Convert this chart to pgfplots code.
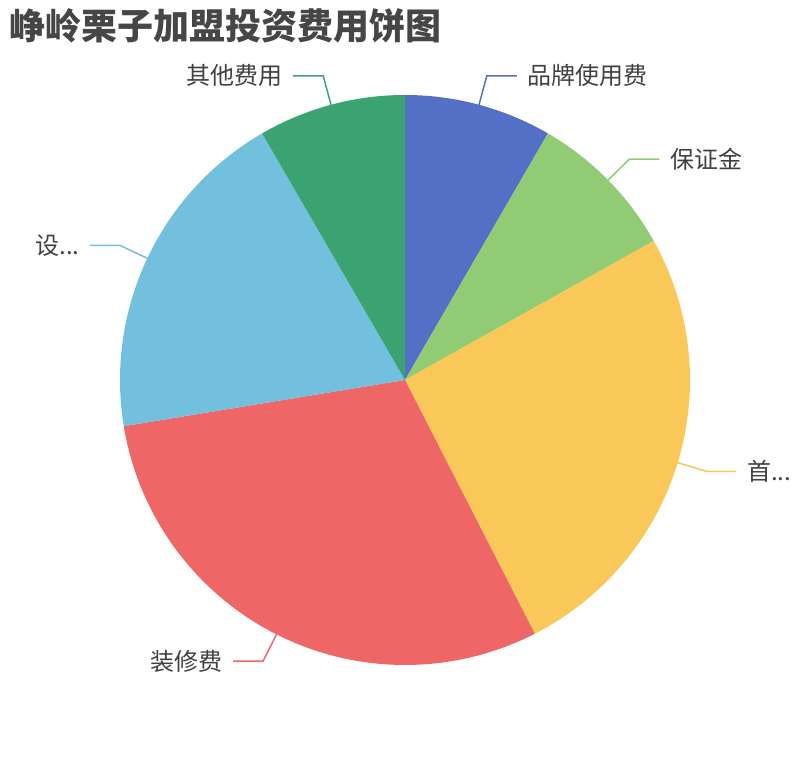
\documentclass[border=0pt]{standalone}
\usepackage{fontspec}
\setmainfont{Noto Sans CJK SC}
\usepackage{pgfplots}
\usepackage{pgfplotstable}
\pgfplotsset{compat=1.18}

\definecolor{pie0}{HTML}{5470C6}
\definecolor{pie1}{HTML}{91CC75}
\definecolor{pie2}{HTML}{FAC858}
\definecolor{pie3}{HTML}{EE6666}
\definecolor{pie4}{HTML}{73C0DE}
\definecolor{pie5}{HTML}{3BA272}
\definecolor{titlegray}{HTML}{464646}
\definecolor{labelgray}{HTML}{404040}

% slice values, clockwise from 12 o'clock
\pgfplotstableread[col sep=comma]{
value,label
5.0,品牌使用费
5.1,保证金
15.3,首...
17.9,装修费
11.5,设...
5.0,其他费用
}\piedata

\begin{document}
\begin{tikzpicture}
% total and per-slice angles
\pgfplotstablegetrowsof{\piedata}
\pgfmathtruncatemacro\nrows{\pgfplotsretval-1}
\def\total{0}
\pgfplotsforeachungrouped \i in {0,...,\nrows}{%
  \pgfplotstablegetelem{\i}{value}\of\piedata
  \pgfmathsetmacro\total{\total+\pgfplotsretval}%
}
\def\cum{0}
\pgfplotsforeachungrouped \i in {0,...,\nrows}{%
  \pgfplotstablegetelem{\i}{value}\of\piedata
  \let\v\pgfplotsretval
  \pgfmathsetmacro\sa{90-360*(\cum/\total)}%
  \pgfmathsetmacro\cum{\cum+\v}%
  \pgfmathsetmacro\ea{90-360*(\cum/\total)}%
  \pgfmathsetmacro\ma{(\sa+\ea)/2}%
  \expandafter\xdef\csname pieS\i\endcsname{\sa}%
  \expandafter\xdef\csname pieE\i\endcsname{\ea}%
  \expandafter\xdef\csname pieM\i\endcsname{\ma}%
  \pgfmathparse{cos(\ma)>=0 ? 1 : -1}%
  \expandafter\xdef\csname pieD\i\endcsname{\pgfmathresult}%
  \ifdim\pgfmathresult pt>0pt
    \expandafter\xdef\csname pieA\i\endcsname{west}%
  \else
    \expandafter\xdef\csname pieA\i\endcsname{east}%
  \fi
  \pgfplotstablegetelem{\i}{label}\of\piedata
  \expandafter\xdef\csname pieL\i\endcsname{\pgfplotsretval}%
}
\useasboundingbox (0,0) rectangle (810pt,760pt);
\begin{axis}[
    at={(0,0)}, anchor=south west,
    scale only axis,
    width=810pt, height=760pt,
    xmin=0, xmax=810, ymin=0, ymax=760,
    hide axis,
    clip=false,
]
\pgfplotsinvokeforeach{0,...,5}{
  \fill[pie#1] (axis cs:405,380) -- ++(\csname pieS#1\endcsname:285pt)
    arc[start angle=\csname pieS#1\endcsname, end angle=\csname pieE#1\endcsname, radius=285pt] -- cycle;
  \draw[pie#1, line width=1.5pt] (axis cs:405,380) ++(\csname pieM#1\endcsname:285pt)
    -- ++(\csname pieM#1\endcsname:30pt) -- ++(\csname pieD#1\endcsname*30pt,0)
    node[anchor=\csname pieA#1\endcsname, inner sep=0pt, xshift=\csname pieD#1\endcsname*10pt,
         text=labelgray, font=\fontsize{24}{29}\selectfont] {\csname pieL#1\endcsname};
}
\node[anchor=west, inner sep=0pt, text=titlegray, font=\fontsize{36}{43}\selectfont\bfseries]
  at (axis cs:9,734) {峥岭栗子加盟投资费用饼图};
\end{axis}
\end{tikzpicture}
\end{document}
